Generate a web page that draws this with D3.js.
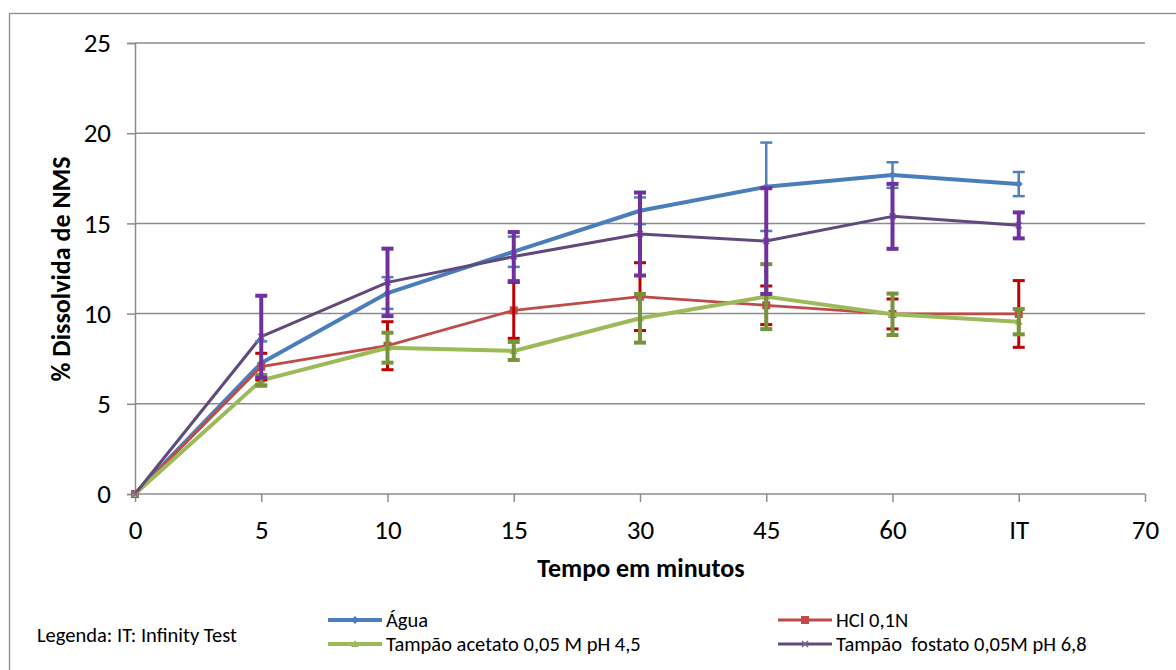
<!DOCTYPE html>
<html><head><meta charset="utf-8">
<script src="https://cdn.jsdelivr.net/npm/d3@7"></script>
<style>body{margin:0;background:#fff}svg{display:block}text{font-family:Carlito,Calibri,Lato,sans-serif;white-space:pre}</style>
</head><body><svg id="c" width="1176" height="670"></svg>
<script>
const xTickLabels = ["0","5","10","15","30","45","60","IT","70"];
const timePoints = ["0","5","10","15","30","45","60","IT"];
const aguaValues = [0, 7.26, 11.14, 13.43, 15.70, 17.03, 17.68, 17.18];
const aguaErrors = [0, 1.2, 0.88, 0.84, 0.74, 2.45, 0.71, 0.67];
const hclValues = [0, 7.06, 8.22, 10.18, 10.94, 10.46, 9.98, 9.98];
const hclErrors = [0, 0.74, 1.33, 1.55, 1.88, 1.07, 0.83, 1.85];
const acetatoValues = [0, 6.3, 8.11, 7.93, 9.74, 10.94, 9.96, 9.55];
const acetatoErrors = [0, 0.3, 0.83, 0.5, 1.35, 1.8, 1.15, 0.7];
const fosfatoValues = [0, 8.72, 11.73, 13.16, 14.41, 14.02, 15.39, 14.89];
const fosfatoErrors = [0, 2.27, 1.87, 1.36, 2.3, 2.93, 1.8, 0.72];
const yTicks = [0, 5, 10, 15, 20, 25];

const FONT = "Carlito,Calibri,Lato,sans-serif";
const series = [
  {name:"Água", v:aguaValues, e:aguaErrors, line:"#4A7EBB", err:"#4F81BD", lw:4, ew:2.5, marker:"diamond"},
  {name:"HCl 0,1N", v:hclValues, e:hclErrors, line:"#BE4B48", err:"#C00000", lw:2.8, ew:3, marker:"square"},
  {name:"Tampão acetato 0,05 M pH 4,5", v:acetatoValues, e:acetatoErrors, line:"#9BBB59", err:"#77933C", lw:4, ew:4, marker:"triangle"},
  {name:"Tampão  fostato 0,05M pH 6,8", v:fosfatoValues, e:fosfatoErrors, line:"#604A7B", err:"#7030A0", lw:3, ew:4, marker:"cross"}
];

const svg = d3.select("#c");
svg.append("rect").attr("x",9.5).attr("y",13.5).attr("width",1180).attr("height",700)
  .attr("fill","#fff").attr("stroke","#8c8c8c").attr("stroke-width",1.3);

const x = d3.scaleLinear().domain([0,8]).range([135,1145]);
const y = d3.scaleLinear().domain([0,25]).range([494,43]);

// gridlines
svg.append("g").selectAll("line").data(yTicks.slice(1)).join("line")
  .attr("x1",x(0)).attr("x2",x(8)).attr("y1",d=>y(d)).attr("y2",d=>y(d))
  .attr("stroke","#8c8c8c").attr("stroke-width",1.5);

// y axis
const ya = svg.append("g").attr("transform",`translate(${x(0)},0)`)
  .call(d3.axisLeft(y).tickValues(yTicks).tickSize(8).tickPadding(16));
ya.select(".domain").attr("stroke","#8c8c8c").attr("stroke-width",1.5);
ya.selectAll(".tick line").attr("stroke","#8c8c8c").attr("stroke-width",1.5);
ya.selectAll("text").attr("font-size",27).attr("fill","#000").style("font-family",FONT);

// x axis
const xa = svg.append("g").attr("transform",`translate(0,${y(0)})`)
  .call(d3.axisBottom(x).tickValues(d3.range(9)).tickFormat(i=>xTickLabels[i]).tickSize(8));
xa.select(".domain").attr("stroke","#8c8c8c").attr("stroke-width",1.5).attr("d",`M${x(0)},0H${x(8)}`);
xa.selectAll(".tick line").attr("stroke","#8c8c8c").attr("stroke-width",1.5);
xa.selectAll("text").attr("font-size",27).attr("fill","#000").attr("y",45).attr("dy",null).style("font-family",FONT);

// axis titles
svg.append("text").attr("x",641).attr("y",577).attr("text-anchor","middle")
  .attr("font-size",26).attr("font-weight","bold").text("Tempo em minutos");
svg.append("text").attr("transform",`translate(70,269) rotate(-90)`).attr("text-anchor","middle")
  .attr("font-size",26).attr("font-weight","bold").text("% Dissolvida de NMS");

const line = d3.line().x((d,i)=>x(i)).y(d=>y(d));

function marker(g, type, cx, cy, color){
  if(type==="diamond") g.append("path").attr("d",`M${cx},${cy-4}L${cx+4},${cy}L${cx},${cy+4}L${cx-4},${cy}Z`).attr("fill",color);
  else if(type==="square") g.append("rect").attr("x",cx-4).attr("y",cy-4).attr("width",8).attr("height",8).attr("fill",color);
  else if(type==="triangle") g.append("path").attr("d",`M${cx},${cy-4}L${cx+4},${cy+3}L${cx-4},${cy+3}Z`).attr("fill",color);
  else g.append("path").attr("d",`M${cx-3},${cy-3}L${cx+3},${cy+3}M${cx-3},${cy+3}L${cx+3},${cy-3}`).attr("stroke","#8064A2").attr("stroke-width",1.5);
}

series.forEach(s=>{
  const g = svg.append("g");
  g.append("path").datum(s.v).attr("d",line).attr("fill","none").attr("stroke",s.line)
    .attr("stroke-width",s.lw).attr("stroke-linejoin","round");
  s.v.forEach((v,i)=>marker(g,s.marker,x(i),y(v),s.line));
});
series.forEach(s=>{
  const g = svg.append("g");
  s.v.forEach((v,i)=>{
    if(!s.e[i]) return;
    const cx=x(i), t=y(v+s.e[i]), b=y(v-s.e[i]);
    g.append("line").attr("x1",cx).attr("x2",cx).attr("y1",t).attr("y2",b).attr("stroke",s.err).attr("stroke-width",s.ew);
    [t,b].forEach(yy=>g.append("line").attr("x1",cx-6).attr("x2",cx+6).attr("y1",yy).attr("y2",yy).attr("stroke",s.err).attr("stroke-width",s.ew));
  });
});

// legend
const legPos = [[328,620],[778,620],[328,644],[778,644]];
series.forEach((s,k)=>{
  const [lx,ly]=legPos[k];
  const g = svg.append("g");
  g.append("line").attr("x1",lx).attr("x2",lx+54).attr("y1",ly).attr("y2",ly).attr("stroke",s.line).attr("stroke-width",s.lw);
  marker(g,s.marker,lx+27,ly,s.line);
  g.append("text").attr("x",lx+58).attr("y",ly+7).attr("font-size",20.5).attr("xml:space","preserve").text(s.name);
});
svg.append("text").attr("x",37).attr("y",642).attr("font-size",20.5).text("Legenda: IT: Infinity Test");
</script></body></html>
